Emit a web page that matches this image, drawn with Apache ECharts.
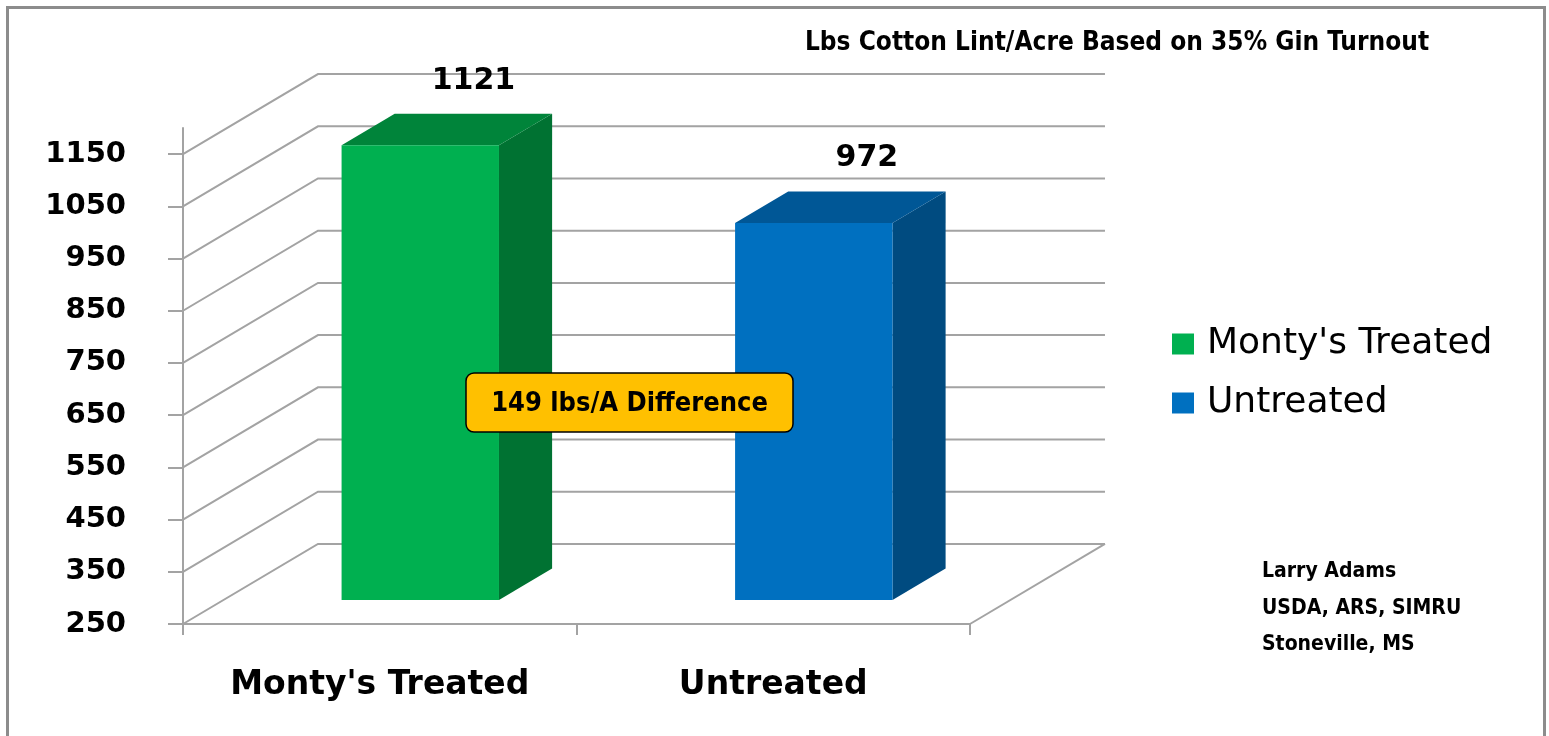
<!DOCTYPE html>
<html>
<head>
<meta charset="utf-8">
<script src="https://cdn.jsdelivr.net/npm/echarts@6/dist/echarts.min.js"></script>
<style>
html,body{margin:0;padding:0;background:#ffffff;}
#chart{width:1549px;height:736px;}
</style>
</head>
<body>
<div id="chart"></div>
<script>
// ---- data ----
const categories = ["Monty's Treated", "Untreated"];
const seriesNames = ["Monty's Treated", "Untreated"];
const treatedValues = [1121, null];
const untreatedValues = [null, 972];
const tickValues = [250, 350, 450, 550, 650, 750, 850, 950, 1050, 1150];
const axisMin = 250;
const axisMax = 1200;
const titleText = 'Lbs Cotton Lint/Acre Based on 35% Gin Turnout';
const creditLines = ['Larry Adams', 'USDA, ARS, SIMRU', 'Stoneville, MS'];

// ---- styling constants ----
const WALL_DX = 0.343;   // depth of the floor/walls, fraction of category band
const SLOPE = 0.593;     // vertical rise per horizontal depth
const BAR_OFF = 0.103;   // bar front plane offset into depth
const BAR_DEPTH = 0.135; // bar depth
const BAR_W = 0.40;      // bar width
const GRID_COLOR = '#a3a3a3';
const NARROW = '"Liberation Sans Narrow","DejaVu Sans Condensed","Noto Sans",sans-serif';
const WIDE = '"DejaVu Sans","Noto Sans",sans-serif';

const palettes = [
  {front: '#00B050', side: '#007232', top: '#00843A'},
  {front: '#0070C0', side: '#004B80', top: '#005796'}
];

function toData(arr) {
  const out = [];
  arr.forEach(function (v, i) { if (v != null) out.push([i, v]); });
  return out;
}

function renderWall(params, api) {
  const v = api.value(1);
  const band = api.size([1, 0])[0];
  const cs = params.coordSys;
  const dx = band * WALL_DX, dy = dx * SLOPE;
  const y = api.coord([0, v])[1];
  const x0 = cs.x, x1 = cs.x + cs.width;
  const children = [{
    type: 'polyline',
    shape: {points: [[x0, y], [x0 + dx, y - dy], [x1 + dx, y - dy]]},
    style: {stroke: GRID_COLOR, lineWidth: 2, fill: null}
  }];
  if (params.dataIndex === 0) {
    children.push({
      type: 'line',
      shape: {x1: x1, y1: y, x2: x1 + dx, y2: y - dy},
      style: {stroke: GRID_COLOR, lineWidth: 2}
    });
  }
  return {type: 'group', children: children};
}

function makeBarRenderer(pal) {
  return function (params, api) {
    const cat = api.value(0), v = api.value(1);
    const band = api.size([1, 0])[0];
    const c = api.coord([cat, v]);
    const base = api.coord([cat, axisMin]);
    const off = band * BAR_OFF, offY = off * SLOPE;
    const w = band * BAR_W;
    const d = band * BAR_DEPTH, dY = d * SLOPE;
    const xl = c[0] - w / 2 + off, xr = xl + w;
    const yt = c[1] - offY, yb = base[1] - offY;
    return {
      type: 'group',
      children: [
        {type: 'polygon', shape: {points: [[xr, yt], [xr + d, yt - dY], [xr + d, yb - dY], [xr, yb]]},
          style: {fill: pal.side}},
        {type: 'polygon', shape: {points: [[xl, yt], [xl + d, yt - dY], [xr + d, yt - dY], [xr, yt]]},
          style: {fill: pal.top}},
        {type: 'rect', shape: {x: xl, y: yt, width: w, height: yb - yt},
          style: {fill: pal.front}},
        {type: 'text', style: {text: String(v), x: (xl + xr) / 2 + d, y: yt - dY - 33,
          align: 'center', verticalAlign: 'middle', fill: '#000',
          fontSize: 30, fontWeight: 'bold', fontFamily: WIDE}}
      ]
    };
  };
}

const diff = treatedValues[0] - untreatedValues[1];

const chart = echarts.init(document.getElementById('chart'), null, {renderer: 'canvas'});
chart.setOption({
  backgroundColor: '#ffffff',
  animation: false,
  title: {
    text: titleText,
    left: 1112, top: 25, textAlign: 'center',
    textStyle: {fontSize: 26, fontWeight: 'bold', fontFamily: NARROW, color: '#000'}
  },
  legend: {
    data: seriesNames,
    orient: 'vertical',
    left: 1172, top: 326, padding: 0,
    itemWidth: 22, itemHeight: 21, itemGap: 23,
    icon: 'rect',
    textStyle: {fontSize: 36, fontFamily: WIDE, color: '#000', padding: [0, 0, 0, 8]}
  },
  grid: {left: 183, right: 579, top: 128, bottom: 112, containLabel: false},
  xAxis: {
    type: 'category',
    data: categories,
    axisLine: {lineStyle: {color: GRID_COLOR, width: 2}},
    axisTick: {show: true, length: 11, lineStyle: {color: GRID_COLOR, width: 2}},
    axisLabel: {margin: 45, fontSize: 33, fontWeight: 'bold', fontFamily: WIDE, color: '#000'},
    splitLine: {show: false}
  },
  yAxis: {
    type: 'value',
    min: axisMin, max: axisMax,
    axisLine: {show: true, lineStyle: {color: GRID_COLOR, width: 2}},
    axisTick: {show: true, length: 15, customValues: tickValues, lineStyle: {color: GRID_COLOR, width: 2}},
    axisLabel: {customValues: tickValues, formatter: function (v) { return String(v); },
      margin: 57, fontSize: 29, fontWeight: 'bold', fontFamily: WIDE, color: '#000'},
    splitLine: {show: false}
  },
  series: [
    {
      name: 'walls', type: 'custom', z: 1, silent: true,
      renderItem: renderWall,
      data: tickValues.map(function (v) { return [0, v]; }),
      encode: {x: 0, y: 1}
    },
    {
      name: seriesNames[0], type: 'custom', z: 3,
      itemStyle: {color: palettes[0].front},
      renderItem: makeBarRenderer(palettes[0]),
      data: toData(treatedValues),
      encode: {x: 0, y: 1}
    },
    {
      name: seriesNames[1], type: 'custom', z: 3,
      itemStyle: {color: palettes[1].front},
      renderItem: makeBarRenderer(palettes[1]),
      data: toData(untreatedValues),
      encode: {x: 0, y: 1}
    }
  ],
  graphic: [
    {type: 'rect', left: 5, top: 5, z: 0, silent: true,
      shape: {x: 0, y: 0, width: 1537, height: 745},
      style: {fill: null, stroke: '#8c8c8c', lineWidth: 3}},
    {type: 'rect', x: 466, y: 373, z: 100, zlevel: 1,
      shape: {x: 0, y: 0, width: 327, height: 59, r: 8},
      style: {fill: '#FFC000', stroke: '#000', lineWidth: 1.5}},
    {type: 'text', x: 629.5, y: 404, z: 101, zlevel: 1,
      style: {text: diff + ' lbs/A Difference', align: 'center', verticalAlign: 'middle', fill: '#000',
        fontSize: 27, fontWeight: 'bold', fontFamily: NARROW}},
    {type: 'text', left: 1262, top: 561, style: {text: creditLines[0], fill: '#000', fontSize: 21, fontWeight: 'bold', fontFamily: NARROW}},
    {type: 'text', left: 1262, top: 598, style: {text: creditLines[1], fill: '#000', fontSize: 21, fontWeight: 'bold', fontFamily: NARROW}},
    {type: 'text', left: 1262, top: 634, style: {text: creditLines[2], fill: '#000', fontSize: 21, fontWeight: 'bold', fontFamily: NARROW}}
  ]
});
</script>
</body>
</html>
